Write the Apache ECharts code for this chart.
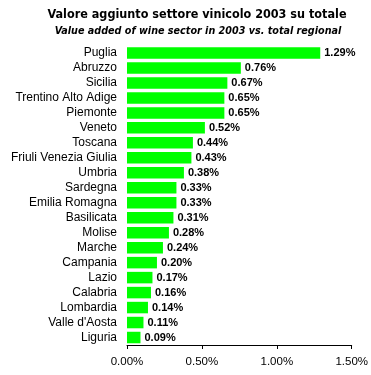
<!DOCTYPE html>
<html><head><meta charset="utf-8">
<script src="https://cdn.jsdelivr.net/npm/echarts@6/dist/echarts.min.js"></script>
<style>html,body{margin:0;padding:0;background:#fff}#c{width:371px;height:375px}</style>
</head><body><div id="c"></div>
<script>
var regions = ["Puglia","Abruzzo","Sicilia","Trentino Alto Adige","Piemonte","Veneto","Toscana","Friuli Venezia Giulia","Umbria","Sardegna","Emilia Romagna","Basilicata","Molise","Marche","Campania","Lazio","Calabria","Lombardia","Valle d'Aosta","Liguria"];
var values = [1.29,0.76,0.67,0.65,0.65,0.52,0.44,0.43,0.38,0.33,0.33,0.31,0.28,0.24,0.20,0.17,0.16,0.14,0.11,0.09];
var xTicks = [0, 0.5, 1.0, 1.5];
var chart = echarts.init(document.getElementById('c'));
chart.setOption({
  animation: false,
  backgroundColor: '#fff',
  title: [{
    text: 'Valore aggiunto settore vinicolo 2003 su totale',
    left: 192, top: 3, textAlign: 'center',
    textStyle: {fontFamily: 'DejaVu Sans Condensed, DejaVu Sans', fontWeight: 'bold', fontSize: 12.5, color: '#000'}
  }, {
    text: 'Value added of wine sector in 2003 vs. total regional',
    left: 193, top: 21, textAlign: 'center',
    textStyle: {fontFamily: 'DejaVu Sans Condensed, DejaVu Sans', fontWeight: 'bold', fontStyle: 'italic', fontSize: 10.7, color: '#000'}
  }],
  grid: {left: 127, right: 19, top: 45.5, bottom: 30, containLabel: false},
  xAxis: {
    type: 'value', min: 0, max: 1.5, interval: 0.5,
    axisLine: {show: true, lineStyle: {color: '#000', width: 1}},
    axisTick: {show: true, length: 4, lineStyle: {color: '#000'}},
    splitLine: {show: false},
    axisLabel: {margin: 11, color: '#000', fontFamily: 'Liberation Sans', fontSize: 11.5,
      formatter: function(v){ return v.toFixed(2) + '%'; }}
  },
  yAxis: {
    type: 'category', data: regions, inverse: true,
    axisLine: {show: false}, axisTick: {show: false},
    axisLabel: {interval: 0, margin: 10, color: '#000', fontFamily: 'Liberation Sans', fontSize: 12}
  },
  series: [{
    type: 'bar', data: values, barWidth: 11.5,
    itemStyle: {color: '#00ff00'},
    label: {show: true, position: 'right', distance: 4, color: '#000',
      fontFamily: 'Liberation Sans Narrow, Liberation Sans', fontWeight: 'bold', fontSize: 11,
      formatter: function(p){ return p.value.toFixed(2) + '%'; }}
  }]
});
</script></body></html>
